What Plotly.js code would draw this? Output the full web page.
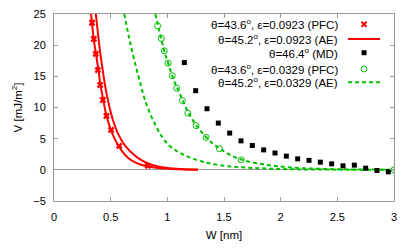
<!DOCTYPE html>
<html><head><meta charset="utf-8">
<script src="https://cdn.plot.ly/plotly-3.0.1.min.js"></script>
<style>html,body{margin:0;padding:0;background:#fff;}#chart{width:415px;height:249px;}</style>
</head><body><div id="chart"></div>
<script>
// PFC, eps=0.0923 (red crosses)
const pfcRedW = [0.336,0.351,0.369,0.387,0.407,0.431,0.463,0.504,0.575,0.829];
const pfcRedV = [23.6,21.0,18.6,16.0,13.6,11.2,8.65,6.4,3.85,0.64];
// AE, eps=0.0923 (two red solid curves)
const aeRedAW = [0.327,0.335,0.35,0.372,0.392,0.41,0.434,0.46,0.50,0.56,0.60,0.655,0.72,0.80,0.90,1.03,1.15,1.27];
const aeRedAV = [25,23.6,21,18.4,16,13.6,11.3,8.9,6.5,4.1,3.0,1.9,1.15,0.65,0.33,0.15,0.07,0.03];
const aeRedBW = [0.369,0.39,0.41,0.43,0.45,0.48,0.52,0.57,0.63,0.70,0.75,0.82,0.90,1.0,1.12,1.27];
const aeRedBV = [25,21.5,18.5,16,13.6,10.8,8.0,5.6,3.8,2.5,1.8,1.1,0.6,0.3,0.14,0.04];
// MD (black squares)
const mdW = [1.15,1.25,1.35,1.45,1.55,1.65,1.75,1.85,1.95,2.05,2.15,2.25,2.35,2.45,2.55,2.65,2.75,2.85,2.95];
const mdV = [17.2,12.7,9.8,7.5,5.9,4.65,3.9,3.2,2.7,2.2,1.76,1.52,1.23,0.96,0.64,0.75,0.27,-0.11,-0.32];
// PFC, eps=0.0329 (green open circles)
const pfcGreenW = [0.914,0.947,0.973,1.006,1.044,1.082,1.133,1.181,1.254,1.342,1.460,1.652,3.0];
const pfcGreenV = [23.1,21.1,19.1,17.1,15.1,13.1,11.1,9.1,7.1,5.2,3.4,1.6,0.0];
// AE, eps=0.0329 (two green dashed curves)
const aeGreenAW = [0.62,0.673,0.746,0.79,0.829,0.894,0.95,1.01,1.08,1.144,1.22,1.307,1.38,1.557,1.794,2.09,2.5,3.0];
const aeGreenAV = [25,20.3,14.95,12.0,9.9,7.2,5.4,4.0,3.05,2.4,1.85,1.33,1.0,0.53,0.27,0.1,0.03,0.0];
const aeGreenBW = [0.894,0.93,0.97,1.01,1.06,1.12,1.19,1.27,1.36,1.47,1.6,1.75,1.95,2.2,2.5,2.8,3.0];
const aeGreenBV = [25,22.2,19.3,16.9,14.3,11.8,9.0,6.8,4.9,3.3,2.0,1.2,0.62,0.26,0.1,0.04,0.02];

const legendLabels = [
  'θ=43.6<sup>o</sup>, ε=0.0923 (PFC)',
  'θ=45.2<sup>o</sup>, ε=0.0923 (AE)',
  'θ=46.4<sup>o</sup> (MD)',
  'θ=43.6<sup>o</sup>, ε=0.0329 (PFC)',
  'θ=45.2<sup>o</sup>, ε=0.0329 (AE)'
];
const xTicks = [0,0.5,1,1.5,2,2.5,3];
const xTickText = ['0','0.5','1','1.5','2','2.5','3'];
const yTicks = [-5,0,5,10,15,20,25];

const RED = '#ff0000', GREEN = '#00c000';
const FONT = 'Liberation Sans, Arial, Helvetica, sans-serif';

const traces = [
  {x: aeRedAW, y: aeRedAV, mode: 'lines', line: {color: RED, width: 2, shape: 'spline'}},
  {x: aeRedBW, y: aeRedBV, mode: 'lines', line: {color: RED, width: 2, shape: 'spline'}},
  {x: pfcRedW, y: pfcRedV, mode: 'markers', marker: {symbol: 'x', size: 6, color: RED}},
  {x: aeGreenAW, y: aeGreenAV, mode: 'lines', line: {color: GREEN, width: 2, dash: '4px,3px', shape: 'spline'}},
  {x: aeGreenBW, y: aeGreenBV, mode: 'lines', line: {color: GREEN, width: 2, dash: '4px,3px', shape: 'spline'}},
  {x: pfcGreenW, y: pfcGreenV, mode: 'markers', marker: {symbol: 'circle-open', size: 6, color: GREEN, line: {width: 1, color: GREEN}}},
  {x: mdW, y: mdV, mode: 'markers', marker: {symbol: 'square', size: 5, color: '#000'}}
].map(t => Object.assign(t, {showlegend: false, hoverinfo: 'skip', cliponaxis: true}));

// manual legend (text right, sample to its right)
const rowY = [0.945, 0.866, 0.793, 0.706, 0.635];
const textX = 0.841, sx0 = 0.865, sx1 = 0.959, sxc = 0.912;
const annotations = legendLabels.map((t, i) => ({
  text: t, xref: 'paper', yref: 'paper', x: textX, y: rowY[i],
  xanchor: 'right', yanchor: 'middle', showarrow: false,
  font: {family: FONT, size: 11.5, color: '#000'}
}));
const shapes = [
  {type: 'line', xref: 'paper', yref: 'paper', xsizemode: 'pixel', ysizemode: 'pixel', xanchor: sxc, yanchor: rowY[0], x0: -2.5, x1: 2.5, y0: -2.5, y1: 2.5, line: {color: RED, width: 2}},
  {type: 'line', xref: 'paper', yref: 'paper', xsizemode: 'pixel', ysizemode: 'pixel', xanchor: sxc, yanchor: rowY[0], x0: -2.5, x1: 2.5, y0: 2.5, y1: -2.5, line: {color: RED, width: 2}},
  {type: 'line', xref: 'paper', yref: 'paper', x0: sx0, x1: sx1, y0: rowY[1], y1: rowY[1], line: {color: RED, width: 2}},
  {type: 'rect', xref: 'paper', yref: 'paper', xsizemode: 'pixel', ysizemode: 'pixel', xanchor: sxc, yanchor: rowY[2], x0: -2.5, x1: 2.5, y0: -2.5, y1: 2.5, line: {width: 0}, fillcolor: '#000'},
  {type: 'circle', xref: 'paper', yref: 'paper', xsizemode: 'pixel', ysizemode: 'pixel', xanchor: sxc, yanchor: rowY[3], x0: -3, x1: 3, y0: -3, y1: 3, line: {color: GREEN, width: 1}},
  {type: 'line', xref: 'paper', yref: 'paper', x0: sx0, x1: sx1, y0: rowY[4], y1: rowY[4], line: {color: GREEN, width: 2, dash: '4px,3px'}}
];

const axisCommon = {
  showgrid: false, showline: true, linecolor: '#999', linewidth: 1, mirror: 'ticks',
  ticks: 'inside', ticklen: 4, tickcolor: '#999', tickwidth: 1,
  tickfont: {family: FONT, size: 11, color: '#000'}
};
const layout = {
  width: 415, height: 249,
  margin: {l: 54, r: 21, t: 14, b: 48},
  paper_bgcolor: '#fff', plot_bgcolor: '#fff',
  showlegend: false,
  font: {family: FONT, size: 11, color: '#000'},
  xaxis: Object.assign({}, axisCommon, {
    range: [0, 3], tickvals: xTicks, ticktext: xTickText, zeroline: false,
    ticklabelstandoff: 6,
    title: {text: 'W [nm]', font: {family: FONT, size: 11.5, color: '#000'}, standoff: 8}
  }),
  yaxis: Object.assign({}, axisCommon, {
    range: [-5, 25], tickvals: yTicks, zeroline: true, zerolinecolor: '#999', zerolinewidth: 1,
    ticklabelstandoff: 5,
    title: {text: 'V [mJ/m<sup>2</sup>]', font: {family: FONT, size: 11.5, color: '#000'}, standoff: 8}
  }),
  annotations: annotations,
  shapes: shapes
};
Plotly.newPlot('chart', traces, layout, {staticPlot: true, displayModeBar: false});
</script></body></html>
